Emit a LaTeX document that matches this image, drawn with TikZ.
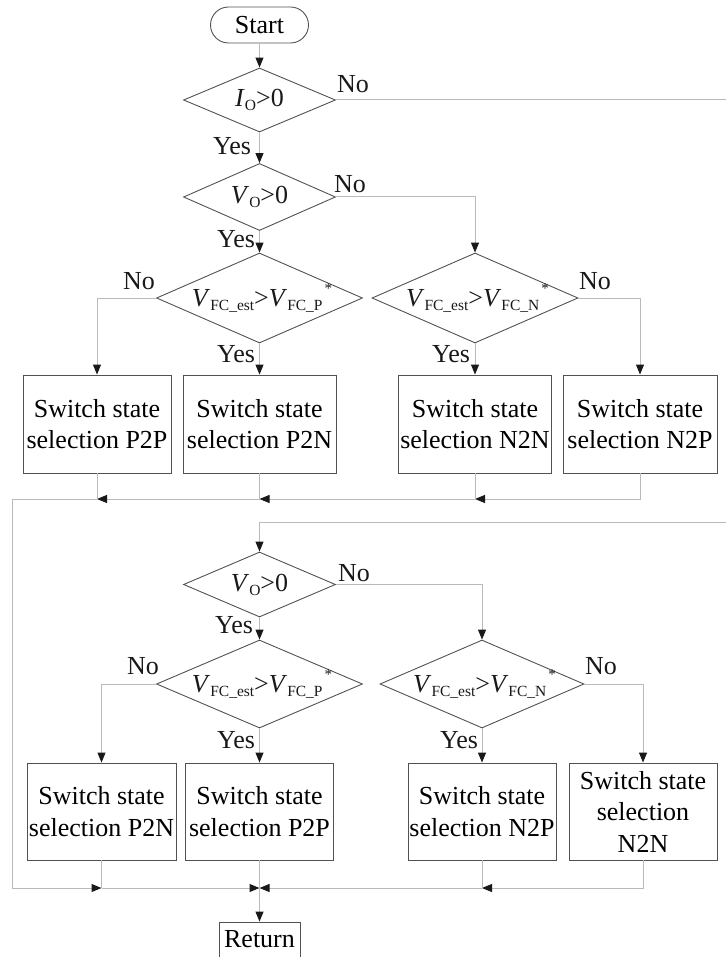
\documentclass[tikz,border=0pt]{standalone}
\usepackage{fontspec}
\setmainfont{Liberation Serif}
\usetikzlibrary{shapes.geometric,arrows.meta}
% lowered subscript and raised star used in the decision texts
\newcommand\lowsub[1]{\raisebox{-4pt}{\fontsize{15.5}{15.5}\selectfont #1}}
\newcommand\upstar{\hspace{2pt}\raisebox{13pt}{\fontsize{15}{15}\selectfont *}}

\begin{document}
\begin{tikzpicture}[x=1pt,y=-1pt,
  font=\rmfamily\fontsize{26}{31.5}\selectfont,
  outline/.style={draw=black!68, line width=0.9pt},
  decision/.style={outline, diamond, inner sep=0pt},
  stepbox/.style={outline, rectangle, inner sep=0pt, minimum height=97, align=center},
  terminal/.style={outline, rectangle, rounded corners=18pt, inner sep=0pt},
  conn/.style={draw=black!27, line width=1pt},
  flow/.style={conn, -{Triangle[length=10pt,width=8pt,color=black!90]}},
  tag/.style={inner sep=0pt, text=black!90}
]
\useasboundingbox (0,0) rectangle (726,957);
\clip (0,0) rectangle (726,957);

% terminals
\node[terminal, minimum width=98, minimum height=36] (start) at (259.5,25) {Start};
\node[terminal, rounded corners=0pt, minimum width=81, minimum height=35] (ret) at (259.5,939.5) {Return};

% decisions, upper branch
\node[decision, minimum width=152, minimum height=64] (io) at (259.5,100) {};
\node[tag] (io-t) at (io) {\textit{I}\lowsub{O}>0};
\node[decision, minimum width=152, minimum height=67] (vo1) at (259.5,197) {};
\node[tag] (vo1-t) at (vo1) {\textit{V}\lowsub{O}>0};
\node[decision, minimum width=206, minimum height=90] (p1) at (259.5,298) {};
\node[tag] (p1-t) at (262,298) {\textit{V}\lowsub{FC\_est}>\textit{V}\lowsub{FC\_P}\upstar};
\node[decision, minimum width=206, minimum height=90] (n1) at (475,298) {};
\node[tag] (n1-t) at (477.5,298) {\textit{V}\lowsub{FC\_est}>\textit{V}\lowsub{FC\_N}\upstar};

% decisions, lower branch
\node[decision, minimum width=152, minimum height=65] (vo2) at (259.5,584.5) {};
\node[tag] (vo2-t) at (vo2) {\textit{V}\lowsub{O}>0};
\node[decision, minimum width=206, minimum height=88] (p2) at (259.5,684) {};
\node[tag] (p2-t) at (262,684) {\textit{V}\lowsub{FC\_est}>\textit{V}\lowsub{FC\_P}\upstar};
\node[decision, minimum width=204, minimum height=88] (n2) at (482,684) {};
\node[tag] (n2-t) at (484.5,684) {\textit{V}\lowsub{FC\_est}>\textit{V}\lowsub{FC\_N}\upstar};

% switch state boxes
\node[stepbox, minimum width=148, minimum height=98] (b1) at (97,424) {Switch state\\selection P2P};
\node[stepbox, minimum width=153, minimum height=98] (b2) at (259.5,424) {Switch state\\selection P2N};
\node[stepbox, minimum width=153, minimum height=98] (b3) at (475,424) {Switch state\\selection N2N};
\node[stepbox, minimum width=154, minimum height=98] (b4) at (640,424) {Switch state\\selection N2P};
\node[stepbox, minimum width=149] (c1) at (101.5,811.5) {Switch state\\selection P2N};
\node[stepbox, minimum width=148] (c2) at (259.5,811.5) {Switch state\\selection P2P};
\node[stepbox, minimum width=148] (c3) at (482,811.5) {Switch state\\selection N2P};
\node[stepbox, minimum width=148] (c4) at (643,811.5) {Switch state\\selection\\N2N};

% branch labels
\node[tag] (l1) at (353,84) {No};
\node[tag] (l2) at (232,146) {Yes};
\node[tag] (l3) at (350,184) {No};
\node[tag] (l4) at (236,239) {Yes};
\node[tag] (l5) at (139,281) {No};
\node[tag] (l6) at (595,281) {No};
\node[tag] (l7) at (236,354) {Yes};
\node[tag] (l8) at (451,354) {Yes};
\node[tag] (l9) at (354,573) {No};
\node[tag] (l10) at (234,625) {Yes};
\node[tag] (l11) at (143,666) {No};
\node[tag] (l12) at (601,666) {No};
\node[tag] (l13) at (236,740) {Yes};
\node[tag] (l14) at (459,740) {Yes};

% routing points
\coordinate (rx) at (740,0);
\coordinate (j0) at (259.5,522);
\coordinate (m3) at (475,499);
\coordinate (m2) at (259.5,499);
\coordinate (m1) at (97,499);
\coordinate (m0) at (12,499);
\coordinate (k0) at (12,888);
\coordinate (k1) at (101.5,888);
\coordinate (k2) at (259.5,888);
\coordinate (k3) at (482,888);

% connectors, upper branch
\draw[flow] (start.south) -- (io.north);
\draw[flow] (io.east) -- (io.east -| rx) |- (j0) -- (vo2.north);
\draw[flow] (io.south) -- (vo1.north);
\draw[flow] (vo1.east) -| (n1.north);
\draw[flow] (vo1.south) -- (p1.north);
\draw[flow] (p1.west) -| (b1.north);
\draw[flow] (p1.south) -- (b2.north);
\draw[flow] (n1.south) -- (b3.north);
\draw[flow] (n1.east) -| (b4.north);

% merge of the upper boxes
\draw[flow] (b4.south) |- (m3);
\draw[conn] (b3.south) -- (m3);
\draw[flow] (m3) -- (m2);
\draw[conn] (b2.south) -- (m2);
\draw[flow] (m2) -- (m1);
\draw[conn] (b1.south) -- (m1);
\draw[flow] (m1) -- (m0) -- (k0) -- (k1);

% connectors, lower branch
\draw[flow] (vo2.east) -| (n2.north);
\draw[flow] (vo2.south) -- (p2.north);
\draw[flow] (p2.west) -| (c1.north);
\draw[flow] (p2.south) -- (c2.north);
\draw[flow] (n2.south) -- (c3.north);
\draw[flow] (n2.east) -| (c4.north);

% merge of the lower boxes
\draw[conn] (c1.south) -- (k1);
\draw[flow] (k1) -- (k2);
\draw[flow] (c4.south) |- (k3);
\draw[conn] (c3.south) -- (k3);
\draw[flow] (k3) -- (k2);
\draw[flow] (c2.south) -- (ret.north);
\end{tikzpicture}
\end{document}
